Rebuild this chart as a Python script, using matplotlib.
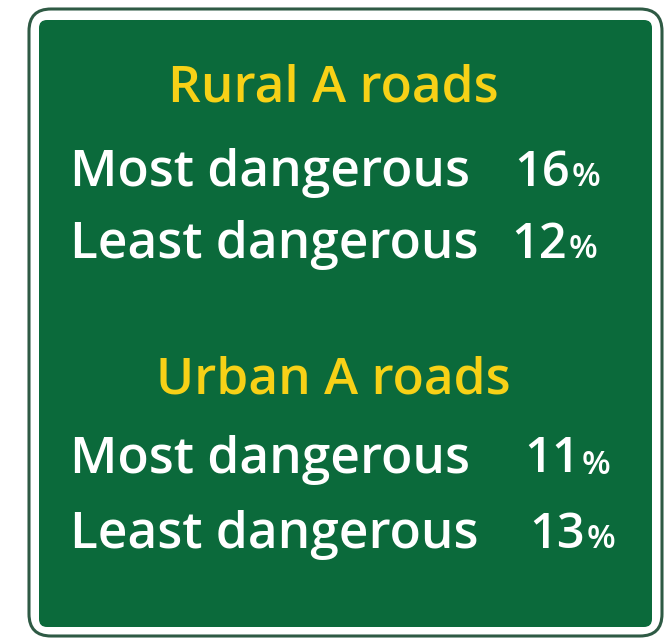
import matplotlib.pyplot as plt
from matplotlib.patches import FancyBboxPatch

# datos del cartel
secciones = ['Rural A roads', 'Urban A roads']
etiquetas = ['Most dangerous', 'Least dangerous']
valores = [[16, 12], [11, 13]]

verde = '#0b6a3b'
amarillo = '#f7d117'
blanco = '#ffffff'

fig = plt.figure(figsize=(6.71, 6.42), dpi=100)
ax = fig.add_axes([0, 0, 1, 1])
ax.set_xlim(0, 671)
ax.set_ylim(642, 0)
ax.axis('off')

# borde exterior blanco con filo oscuro
ax.add_patch(FancyBboxPatch((29, 9), 633, 627, boxstyle='round,pad=0,rounding_size=22',
                            facecolor=blanco, edgecolor='#2e5a44', linewidth=2.2))
# panel verde
ax.add_patch(FancyBboxPatch((39, 20), 613, 607, boxstyle='round,pad=0,rounding_size=8',
                            facecolor=verde, edgecolor='none'))

fuente = 'Open Sans'
y_titulo = [88, 380]
y_filas = [[173, 245], [460, 535]]
x_num = [[570, 567], [580, 585]]

for i, sec in enumerate(secciones):
    ax.text(333, y_titulo[i], sec, color=amarillo, fontsize=37, fontweight='semibold',
            family=fuente, ha='center', va='center')
    for j, lab in enumerate(etiquetas):
        y = y_filas[i][j]
        ax.text(70, y, lab, color=blanco, fontsize=37, fontweight='semibold',
                family=fuente, ha='left', va='center')
        ax.text(x_num[i][j], y, str(valores[i][j]), color=blanco, fontsize=35,
                fontweight='semibold', family=fuente, ha='right', va='center')
        ax.text(x_num[i][j] + 2, y + 5, '%', color=blanco, fontsize=24,
                fontweight='semibold', family=fuente, ha='left', va='center')

fig.savefig('out.png', dpi=100)
